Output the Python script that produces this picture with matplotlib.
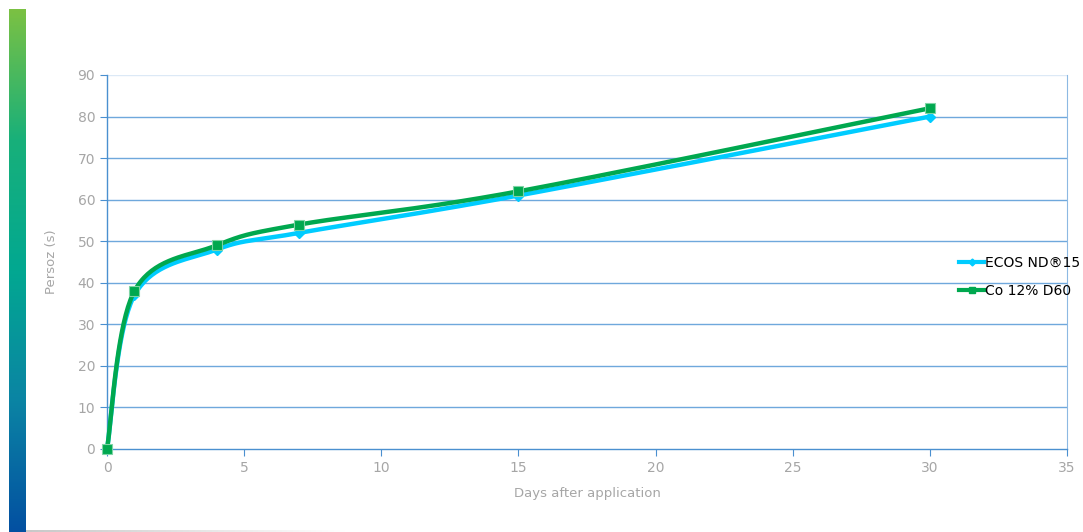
import numpy as np
import matplotlib
matplotlib.use("Agg")
import matplotlib.pyplot as plt
from matplotlib.colors import LinearSegmentedColormap
from matplotlib.lines import Line2D

days = [0, 1, 4, 7, 15, 30]
ecos = [0, 37, 48, 52, 61, 80]
co = [0, 38, 49, 54, 62, 82]
series_names = ["ECOS ND®15", "Co 12% D60"]
yticks = [0, 10, 20, 30, 40, 50, 60, 70, 80, 90]
xticks = [0, 5, 10, 15, 20, 25, 30, 35]

W, H = 1083, 532
fig = plt.figure(figsize=(W / 100, H / 100), dpi=100)

# left gradient bar
gax = fig.add_axes([9 / W, 0, 17 / W, 1 - 9 / H])
cmap = LinearSegmentedColormap.from_list("g", ["#0350A1", "#0B84A4", "#02A891", "#18B07A", "#7BC143"])
gax.imshow(np.linspace(0, 1, 256)[::-1].reshape(-1, 1), aspect="auto", cmap=cmap)
gax.axis("off")

# bottom faint line
bax = fig.add_axes([26 / W, 0, 320 / W, 2 / H])
bax.imshow(np.linspace(0, 1, 256).reshape(1, -1), aspect="auto",
           cmap=LinearSegmentedColormap.from_list("b", ["#C8C8C8", "#FFFFFF"]))
bax.axis("off")

ax = fig.add_axes([107 / W, (H - 449) / H, (1067 - 107) / W, (449 - 75) / H])
ax.set_xlim(0, 35)
ax.set_ylim(0, 90)

grid_c = "#6FA8DC"
for y in yticks[1:-1]:
    ax.axhline(y, color=grid_c, lw=1.0, zorder=1)
ax.axhline(90, color="#DCE9F6", lw=1.0, zorder=1)
for s in ["left", "bottom"]:
    ax.spines[s].set_color("#4A90D0")
    ax.spines[s].set_linewidth(1.0)
ax.spines["right"].set_color("#8DB9E3")
ax.spines["top"].set_visible(False)

ax.set_xticks(xticks)
ax.set_yticks(yticks)
ax.tick_params(axis="both", colors="#4A90D0", labelcolor="#A6A6A6", labelsize=10,
               length=5, direction="out")
ax.set_xlabel("Days after application", color="#A6A6A6", fontsize=9.5, labelpad=9)
ax.set_ylabel("Persoz (s)", color="#A6A6A6", fontsize=9.5, labelpad=14)


def smooth(xs, ys, n=40):
    # Bezier smoothing in display space (similar to Excel smoothed lines)
    fig.canvas.draw()
    P = ax.transData.transform(np.column_stack([xs, ys]))
    t = 1 / 6
    out = [P[0]]
    for i in range(len(P) - 1):
        p0 = P[i - 1] if i > 0 else P[i]
        p1, p2 = P[i], P[i + 1]
        p3 = P[i + 2] if i + 2 < len(P) else P[i + 1]
        c1 = p1 + (p2 - p0) * t
        c2 = p2 - (p3 - p1) * t
        u = np.linspace(0, 1, n)[1:, None]
        seg = (1 - u) ** 3 * p1 + 3 * (1 - u) ** 2 * u * c1 + 3 * (1 - u) * u ** 2 * c2 + u ** 3 * p2
        out.extend(seg)
    out = np.array(out)
    return ax.transData.inverted().transform(out).T


cyan = "#00CCFF"
green = "#00A84F"
sx, sy = smooth(days, ecos)
ax.plot(sx, sy, color=cyan, lw=3.2, zorder=3, solid_capstyle="round", clip_on=False)
ax.plot(days, ecos, ls="none", marker="D", ms=5, color=cyan, zorder=4, clip_on=False)
sx, sy = smooth(days, co)
ax.plot(sx, sy, color=green, lw=3.2, zorder=5, solid_capstyle="round", clip_on=False)
ax.plot(days, co, ls="none", marker="s", ms=7.5, color=green, mec="#7FD4A5", mew=0.8,
        zorder=6, clip_on=False)

handles = [Line2D([], [], color=cyan, lw=3, marker="D", ms=3.5),
           Line2D([], [], color=green, lw=3, marker="s", ms=4.5)]
fig.legend(handles, series_names, loc="upper left", bbox_to_anchor=(959 / W, 1 - 256 / H),
           frameon=False, fontsize=10, handlelength=1.8, handletextpad=0.05,
           labelspacing=1.0, borderpad=0, borderaxespad=0)

fig.savefig("out.png", dpi=100)
